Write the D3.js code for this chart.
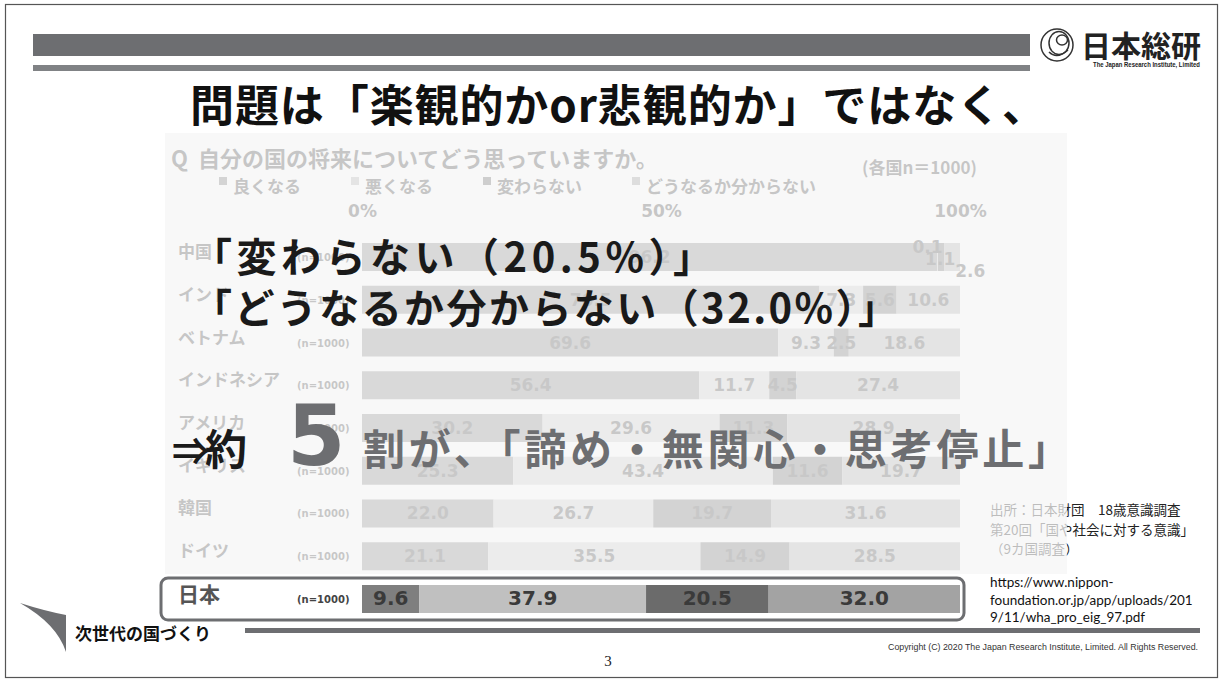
<!DOCTYPE html>
<html><head><meta charset="utf-8">
<script src="https://cdn.jsdelivr.net/npm/d3@7"></script>
<style>html,body{margin:0;padding:0;background:#fff;} svg{display:block;}</style>
</head><body><svg id="c" width="1222" height="679"></svg>
<script>
// ---------- data ----------
const categories = ["中国","インド","ベトナム","インドネシア","アメリカ","イギリス","韓国","ドイツ","日本"];
const seriesKeys = ["良くなる","悪くなる","変わらない","どうなるか分からない"];
const valuesBetter  = [96.2, 76.5, 69.6, 56.4, 30.2, 25.3, 22.0, 21.1, 9.6];
const valuesWorse   = [0.1, 7.3, 9.3, 11.7, 29.6, 43.4, 26.7, 35.5, 37.9];
const valuesSame    = [1.1, 5.6, 2.5, 4.5, 11.3, 11.6, 19.7, 14.9, 20.5];
const valuesUnknown = [2.6, 10.6, 18.6, 27.4, 28.9, 19.7, 31.6, 28.5, 32.0];
const sampleSizes = [1000,1000,1000,1000,1000,1000,1000,1000,1000];
const axisTicks = [0, 50, 100];
const highlightCountry = "日本";
const titleText = "問題は「楽観的かor悲観的か」ではなく、";
const questionText = "Q  自分の国の将来についてどう思っていますか。";
const noteText = "(各国n＝1000)";
const overlayLines = ["「変わらない（20.5%）」", "「どうなるか分からない（32.0%）」"];
const conclusionPrefix = ["⇒", "約"];
const conclusionNumber = "5";
const conclusionRest = "割が、「諦め・無関心・思考停止」";
const sourceLines = ["出所：日本財団　18歳意識調査", "第20回「国や社会に対する意識」", "（9カ国調査）"];
const urlLines = ["https://www.nippon-", "foundation.or.jp/app/uploads/201", "9/11/wha_pro_eig_97.pdf"];
const footerText = "次世代の国づくり";
const pageNumber = "3";
const copyrightText = "Copyright (C) 2020 The Japan Research Institute, Limited. All Rights Reserved.";
const logoText = "日本総研";
const logoSub = "The Japan Research Institute, Limited";

// ---------- setup ----------
const JP = "'Noto Sans CJK JP', 'Noto Sans', sans-serif";
const VD = "'DejaVu Sans', sans-serif";
const GRAY = "#6d6e71";
const svg = d3.select("#c");
svg.append("rect").attr("width",1222).attr("height",679).attr("fill","#fff");
svg.append("rect").attr("x",5.5).attr("y",4.5).attr("width",1212).attr("height",673)
  .attr("fill","none").attr("stroke","#555").attr("stroke-width",1.2);

// header bars
svg.append("rect").attr("x",33).attr("y",34).attr("width",997).attr("height",22).attr("fill",GRAY);
svg.append("rect").attr("x",33).attr("y",65).attr("width",997).attr("height",6).attr("fill","#808285");

// logo
const lg = svg.append("g").attr("fill","none").attr("stroke","#333").attr("stroke-width",1.5);
lg.append("circle").attr("cx",1057).attr("cy",45).attr("r",16);
lg.append("ellipse").attr("cx",1059).attr("cy",43).attr("rx",10).attr("ry",11.5);
lg.append("ellipse").attr("cx",1062).attr("cy",40).attr("rx",5.5).attr("ry",5);
lg.append("path").attr("d","M1049,52 Q1057,60 1068,50");
svg.append("text").attr("x",1081).attr("y",57).attr("font-family",JP).attr("font-weight",700)
  .attr("font-size",30).attr("fill","#222").text(logoText);
svg.append("text").attr("x",1093).attr("y",67).attr("font-family","'Liberation Sans Narrow','Liberation Sans',sans-serif")
  .attr("font-weight",700).attr("font-size",6.5).attr("textLength",107).attr("lengthAdjust","spacingAndGlyphs")
  .attr("fill","#222").text(logoSub);

// title
svg.append("text").attr("x",190).attr("y",122).attr("font-family",JP).attr("font-weight",700)
  .attr("font-size",44).attr("textLength",856).attr("lengthAdjust","spacing").attr("fill","#111").text(titleText);

// ---------- chart ----------
const x = d3.scaleLinear().domain([0,100]).range([362,960]);
const y = d3.scaleBand().domain(categories).range([243,613]).paddingInner(0.345).paddingOuter(0);
const color = d3.scaleOrdinal().domain(seriesKeys).range(["#7f7f7f","#c0c0c0","#6b6b6b","#a3a3a3"]);

const rows = categories.map((c,i)=>({country:c, n:sampleSizes[i],
  [seriesKeys[0]]:valuesBetter[i], [seriesKeys[1]]:valuesWorse[i],
  [seriesKeys[2]]:valuesSame[i], [seriesKeys[3]]:valuesUnknown[i]}));
const stacked = d3.stack().keys(seriesKeys)(rows);

const chart = svg.append("g");
chart.append("rect").attr("x",165).attr("y",133).attr("width",902).attr("height",441).attr("fill","#e8e8e8");

chart.append("text").attr("x",171).attr("y",167).attr("font-family",JP).attr("font-weight",700)
  .attr("font-size",22).attr("fill","#404040").attr("xml:space","preserve").text(questionText);
chart.append("text").attr("x",862).attr("y",174).attr("font-family",JP).attr("font-weight",700)
  .attr("font-size",17).attr("fill","#404040").text(noteText);

// legend
let lx = 219;
seriesKeys.forEach(k=>{
  chart.append("rect").attr("x",lx).attr("y",177).attr("width",8).attr("height",8)
    .attr("fill",d3.color(color(k)).darker(0.4));
  const t = chart.append("text").attr("x",lx+14).attr("y",193).attr("font-family",JP).attr("font-weight",700)
    .attr("font-size",17).attr("fill","#404040").text(k);
  lx = lx + 14 + t.node().getComputedTextLength() + 50;
});

// axis
const axis = chart.append("g").attr("transform","translate(0,220)")
  .call(d3.axisTop(x).tickValues(axisTicks).tickFormat(d=>d+"%").tickSize(0).tickPadding(3));
axis.select(".domain").remove();
axis.selectAll("text").attr("font-family",VD).attr("font-weight",700).attr("font-size",17).attr("fill","#404040");

function drawRow(g, i, hl){
  const r = rows[i];
  const yc = y(r.country) + y.bandwidth()/2;
  g.append("text").attr("x",178).attr("y",yc+(hl?3:1)).attr("font-family",JP).attr("font-weight",700)
    .attr("font-size",hl?21:17).attr("fill",hl?"#555":"#404040").text(r.country);
  g.append("text").attr("x",297).attr("y",yc+4).attr("font-family",VD).attr("font-weight",700)
    .attr("font-size",10).attr("fill","#444").text("(n="+r.n+")");
  const segs = seriesKeys.map((k,j)=>({key:k, v:r[k], x0:stacked[j][i][0], x1:stacked[j][i][1]}));
  g.selectAll(null).data(segs).enter().append("rect")
    .attr("x",d=>x(d.x0)).attr("y",y(r.country)).attr("width",d=>x(d.x1)-x(d.x0))
    .attr("height",y.bandwidth()).attr("fill",d=>color(d.key));
  // staggered labels for runs of tiny segments
  const wOf = d => x(d.x1)-x(d.x0);
  const tiny = segs.map((d,j)=>{
    const prevT = j>0 && wOf(segs[j-1])<20;
    const nextT = j<segs.length-1 && wOf(segs[j+1])<20;
    return wOf(d)<20 && (prevT||nextT);
  });
  const dxs=[-10,-1,18], dys=[-10,2,14];
  let k=0;
  segs.forEach((d,j)=>{
    let tx = (x(d.x0)+x(d.x1))/2, ty = yc+6;
    if(tiny[j]){ tx += dxs[Math.min(k,2)]; ty = yc + dys[Math.min(k,2)] + 6; k++; }
    g.append("text").attr("x",tx).attr("y",ty).attr("text-anchor","middle")
      .attr("font-family",VD).attr("font-weight",700).attr("font-size",hl?20:17)
      .attr("fill",hl?"#3a3a3a":"#484848").text(d3.format(".1f")(d.v));
  });
}
categories.forEach((c,i)=>{ if(c!==highlightCountry) drawRow(chart,i,false); });

// source text (partly under overlay)
sourceLines.forEach((s,i)=>{
  svg.append("text").attr("x",990).attr("y",515+i*19.5).attr("font-family",JP)
    .attr("font-size",13.5).attr("fill","#222").text(s);
});

// fade overlay
svg.append("rect").attr("x",165).attr("y",133).attr("width",902).attr("height",441)
  .attr("fill","#fff").attr("opacity",0.7);

// highlighted row
const hlIdx = categories.indexOf(highlightCountry);
const hg = svg.append("g");
hg.append("rect").attr("x",161).attr("y",y(highlightCountry)-7).attr("width",803).attr("height",y.bandwidth()+14)
  .attr("rx",7).attr("fill","#fff").attr("stroke",GRAY).attr("stroke-width",3);
drawRow(hg, hlIdx, true);

// url
urlLines.forEach((s,i)=>{
  svg.append("text").attr("x",990).attr("y",587+i*17.5).attr("font-family","Lato, 'Open Sans', sans-serif")
    .attr("font-size",13.5).attr("fill","#111").text(s);
});

// big overlay text
const overlayLen = [521, 706];
overlayLines.forEach((s,i)=>{
  svg.append("text").attr("x",192).attr("y",272+i*51).attr("font-family",JP).attr("font-weight",700)
    .attr("font-size",40).attr("textLength",overlayLen[i]).attr("lengthAdjust","spacing")
    .attr("fill","#1a1a1a").text(s);
});
svg.append("text").attr("x",172).attr("y",465).attr("font-family",JP).attr("font-weight",700)
  .attr("font-size",38).attr("fill","#1a1a1a").text(conclusionPrefix[0]);
svg.append("text").attr("x",205).attr("y",465).attr("font-family",JP).attr("font-weight",700)
  .attr("font-size",42).attr("fill","#1a1a1a").text(conclusionPrefix[1]);
svg.append("text").attr("x",287).attr("y",465).attr("font-family",VD).attr("font-weight",700)
  .attr("font-size",84).attr("fill",GRAY).text(conclusionNumber);
svg.append("text").attr("x",363).attr("y",465).attr("font-family",JP).attr("font-weight",700)
  .attr("font-size",42).attr("textLength",707).attr("lengthAdjust","spacing").attr("fill",GRAY).text(conclusionRest);

// footer
svg.append("path").attr("d","M20,603 Q45,611 66,615 L66,652 Q57,624 20,603 Z").attr("fill",GRAY);
svg.append("text").attr("x",75).attr("y",640).attr("font-family",JP).attr("font-weight",700)
  .attr("font-size",17).attr("fill","#111").text(footerText);
svg.append("rect").attr("x",245).attr("y",628).attr("width",955).attr("height",5).attr("fill",GRAY);
svg.append("text").attr("x",608).attr("y",666).attr("text-anchor","middle").attr("font-family","'Liberation Serif',serif")
  .attr("font-size",15).attr("fill","#222").text(pageNumber);
svg.append("text").attr("x",888).attr("y",650).attr("font-family","'Liberation Sans',sans-serif")
  .attr("font-size",8.3).attr("textLength",310).attr("lengthAdjust","spacingAndGlyphs").attr("fill","#333").text(copyrightText);
</script></body></html>
